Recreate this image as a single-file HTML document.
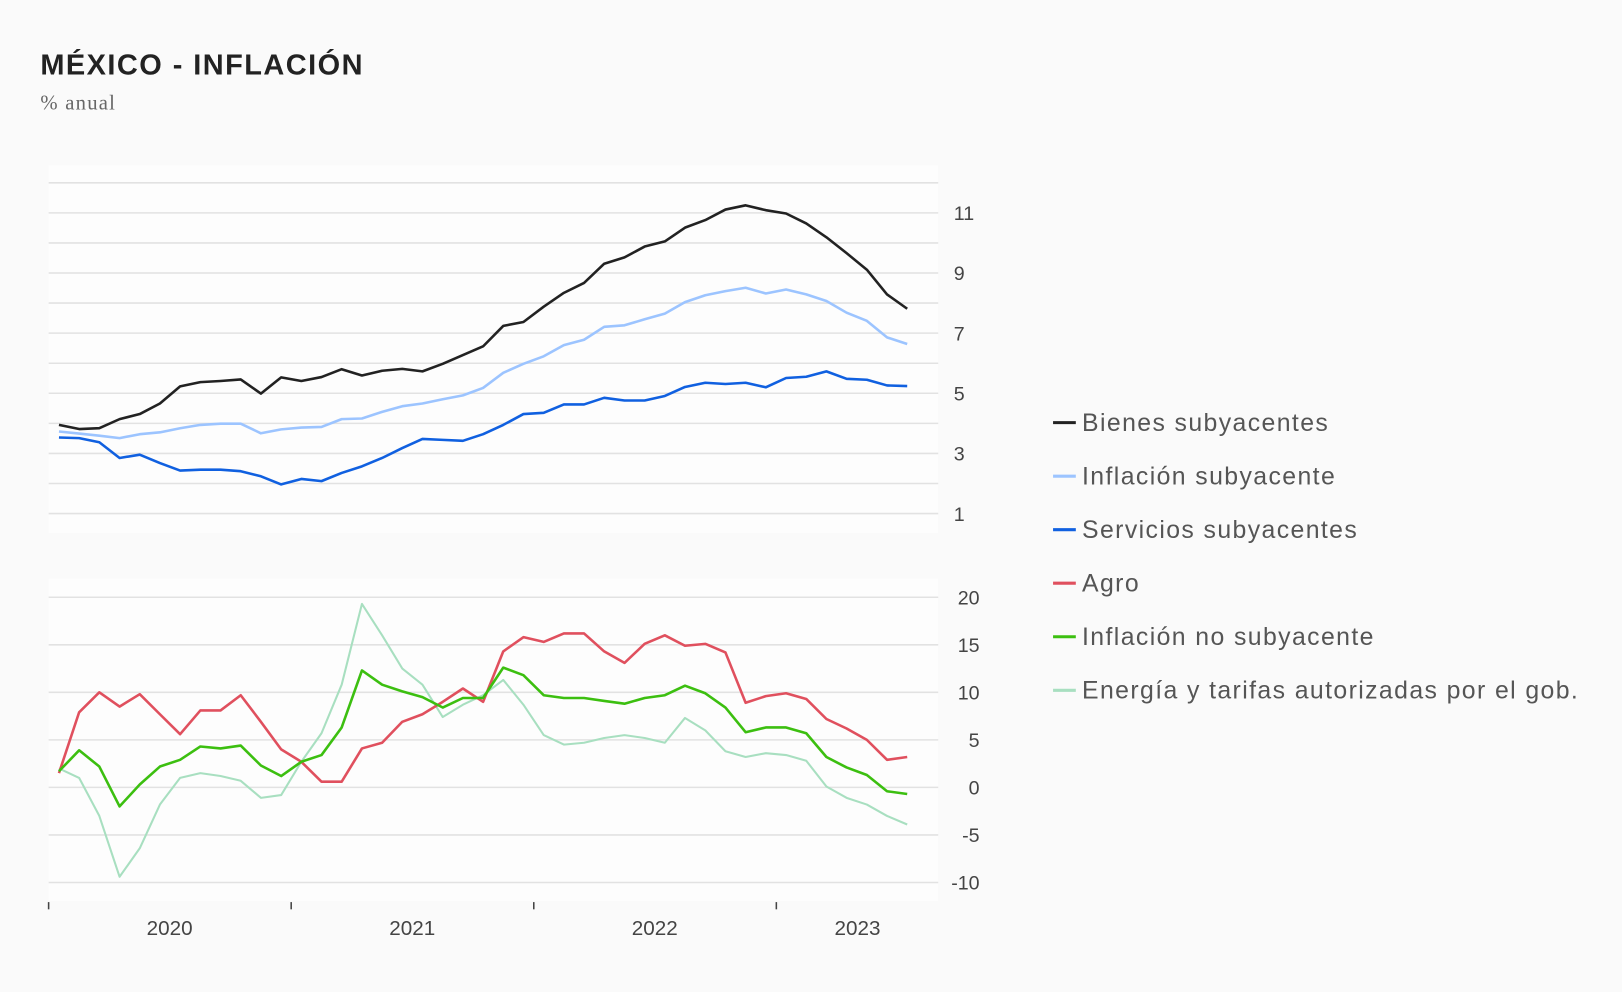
<!DOCTYPE html>
<html><head><meta charset="utf-8"><style>
html,body{margin:0;padding:0;background:#fafafa;}
svg{display:block;}
text{font-family:"Liberation Sans",sans-serif;}
</style></head><body>
<svg id="chart" width="1622" height="992" viewBox="0 0 1568 960" preserveAspectRatio="none" xmlns="http://www.w3.org/2000/svg">
<rect x="0" y="0" width="1568" height="960" fill="#fafafa"/>
<text x="39" y="72" font-size="28" font-weight="bold" fill="#222" letter-spacing="1.4">MÉXICO - INFLACIÓN</text>
<text x="39" y="106" font-size="20" fill="#666" letter-spacing="1.2" style="font-family:'Liberation Serif',serif">% anual</text>
<rect x="47" y="160" width="860" height="356" fill="#fdfdfd"/>
<rect x="47" y="560" width="860" height="312" fill="#fdfdfd"/>
<g id="grid"></g>
<g id="series"></g>
<g id="legend"></g>
</svg>
<script>
const bienes=[3.95,3.81,3.84,4.14,4.31,4.66,5.23,5.37,5.41,5.46,4.99,5.53,5.41,5.54,5.80,5.59,5.75,5.81,5.73,5.98,6.27,6.56,7.24,7.37,7.88,8.34,8.67,9.31,9.52,9.88,10.05,10.51,10.76,11.11,11.25,11.09,10.98,10.65,10.19,9.66,9.11,8.29,7.81];
const subyacente=[3.73,3.66,3.59,3.51,3.64,3.70,3.84,3.95,3.99,3.99,3.67,3.80,3.86,3.88,4.14,4.16,4.38,4.57,4.66,4.80,4.93,5.18,5.68,5.98,6.23,6.60,6.78,7.21,7.26,7.46,7.65,8.03,8.26,8.40,8.51,8.32,8.45,8.29,8.07,7.68,7.41,6.86,6.64];
const servicios=[3.53,3.51,3.37,2.85,2.96,2.68,2.43,2.46,2.46,2.41,2.24,1.97,2.15,2.08,2.35,2.57,2.85,3.18,3.48,3.45,3.42,3.64,3.95,4.31,4.35,4.63,4.63,4.85,4.76,4.76,4.91,5.21,5.35,5.31,5.35,5.20,5.51,5.55,5.73,5.48,5.45,5.26,5.24];
const agro=[1.5,7.9,10.0,8.5,9.8,7.7,5.6,8.1,8.1,9.7,6.9,4.0,2.7,0.6,0.6,4.1,4.7,6.9,7.7,9.0,10.4,9.0,14.3,15.8,15.3,16.2,16.2,14.3,13.1,15.1,16.0,14.9,15.1,14.2,8.9,9.6,9.9,9.3,7.2,6.2,5.0,2.9,3.2];
const noSubyacente=[1.7,3.9,2.2,-2.0,0.3,2.2,2.9,4.3,4.1,4.4,2.3,1.2,2.7,3.4,6.3,12.3,10.8,10.1,9.5,8.4,9.4,9.4,12.6,11.8,9.7,9.4,9.4,9.1,8.8,9.4,9.7,10.7,9.9,8.4,5.8,6.3,6.3,5.7,3.2,2.1,1.3,-0.4,-0.7];
const energia=[2.0,1.0,-3.0,-9.4,-6.4,-1.8,1.0,1.5,1.2,0.7,-1.1,-0.8,2.7,5.7,10.8,19.3,16.0,12.5,10.8,7.4,8.7,9.7,11.3,8.7,5.5,4.5,4.7,5.2,5.5,5.2,4.7,7.3,6.0,3.8,3.2,3.6,3.4,2.8,0.1,-1.1,-1.8,-3.0,-3.9];
const topTicks=[1,3,5,7,9,11];
const topGrid=[1,2,3,4,5,6,7,8,9,10,11,12];
const bottomTicks=[-10,-5,0,5,10,15,20];
const years=["2020","2021","2022","2023"];
const legendNames=["Bienes subyacentes","Inflación subyacente","Servicios subyacentes","Agro","Inflación no subyacente","Energía y tarifas autorizadas por el gob."];

const NS="http://www.w3.org/2000/svg";
const n=bienes.length;
const xS=i=>57+i*(820/42);
const yTop=v=>206+(11-v)*29.1;
const yBot=v=>762-v*9.2;
function mk(tag,attrs,parent){const e=document.createElementNS(NS,tag);for(const k in attrs)e.setAttribute(k,attrs[k]);parent.appendChild(e);return e;}
const grid=document.getElementById('grid');
topGrid.forEach(v=>{const l=mk('line',{x1:47,x2:907,y1:yTop(v),y2:yTop(v),stroke:'#e2e2e2','stroke-width':1.5},grid);

});
topTicks.forEach(v=>{const t=mk('text',{x:922,y:yTop(v)+7,'font-size':19,fill:'#444'},grid);t.textContent=v;

});
bottomTicks.forEach(v=>{const l=mk('line',{x1:47,x2:907,y1:yBot(v),y2:yBot(v),stroke:'#e2e2e2','stroke-width':1.5},grid);


const t=mk('text',{x:947,y:yBot(v)+7,'font-size':19,fill:'#444','text-anchor':'end'},grid);t.textContent=v;

});
years.forEach((y,k)=>{const tx=47+k*234.5;const tk=mk('line',{x1:tx,x2:tx,y1:873,y2:880,stroke:'#444','stroke-width':1.5},grid);


const lx=k<3?tx+117:829;
const t=mk('text',{x:lx,y:905,'font-size':20,fill:'#444','text-anchor':'middle'},grid);t.textContent=y;

});
const ser=document.getElementById('series');
const defs=[[energia,yBot,'#a8dfc0',2,'energia-line'],[agro,yBot,'#e0505e',2.5,'agro-line'],[noSubyacente,yBot,'#3cbf10',2.5,'no-subyacente-line'],[subyacente,yTop,'#9cc4ff',2.5,'subyacente-line'],[servicios,yTop,'#1060e0',2.5,'servicios-line'],[bienes,yTop,'#222222',2.5,'bienes-line']];
defs.forEach(d=>{const pts=d[0].map((v,i)=>xS(i).toFixed(1)+','+d[1](v).toFixed(1)).join(' ');
const p=mk('polyline',{points:pts,fill:'none',stroke:d[2],'stroke-width':d[3],'stroke-linejoin':'round'},ser);

});
const lg=document.getElementById('legend');
const lcol=['#222222','#9cc4ff','#1060e0','#e0505e','#3cbf10','#a8dfc0'];
legendNames.forEach((nm,i)=>{const y=409+i*51.8;
const g=mk('g',{},lg);


mk('line',{x1:1018,x2:1040,y1:y,y2:y,stroke:lcol[i],'stroke-width':3},g);
const t=mk('text',{x:1046,y:y+8,'font-size':24,fill:'#555','letter-spacing':1.35},g);t.textContent=nm;});
</script>
</body></html>
